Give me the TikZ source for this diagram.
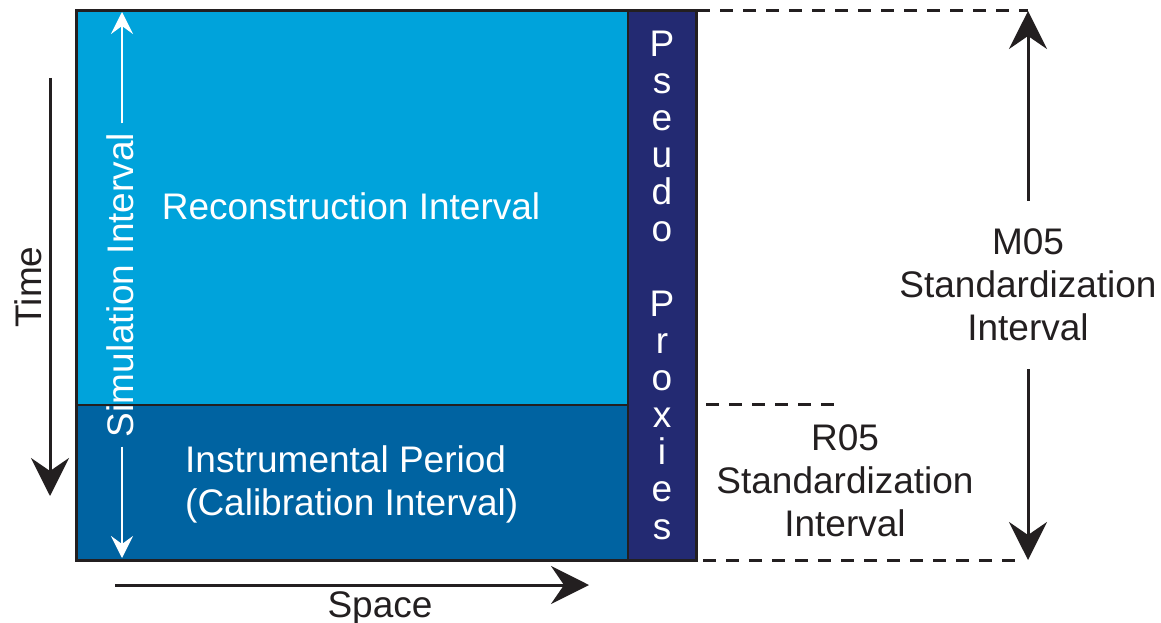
\documentclass[tikz,border=0pt]{standalone}
\usepackage{fontspec}
\setmainfont{Liberation Sans}
\usetikzlibrary{arrows.meta}
\definecolor{lightb}{HTML}{00A3DB}
\definecolor{darkb}{HTML}{0063A1}
\definecolor{navyb}{HTML}{232A72}
\definecolor{ink}{HTML}{231F20}
\begin{document}
\begin{tikzpicture}[x=1pt,y=-1pt,
  lbl/.style={font=\fontsize{37}{43}\selectfont, inner sep=0pt},
  frame/.style={draw=ink, line width=3pt},
  inner/.style={draw=ink, line width=2.2pt},
  guide/.style={draw=ink, line width=3pt, dash pattern=on 13pt off 10pt},
  bigarrow/.style={draw=ink, line width=3pt, -{Stealth[length=38pt,width=38pt,inset=13pt]}},
  whitearrow/.style={draw=white, line width=2.2pt, -{Stealth[length=22pt,width=22pt,inset=8pt]}},
]
\useasboundingbox (0,0) rectangle (1161,623);
% panels
\fill[lightb] (76,11) rectangle (628,405);
\fill[darkb] (76,405) rectangle (628,560);
\fill[navyb] (628,11) rectangle (696,560);
\draw[inner] (76,405) -- (628,405);
\draw[inner] (628,11) -- (628,560);
\draw[frame] (76,11) rectangle (696,560);
% texts inside
\node[lbl, text=white] (recon) at (351,206.5) {Reconstruction Interval};
\node[lbl, text=white, align=left, anchor=west] (instr) at (185,484.5) {Instrumental Period\\(Calibration Interval)};
\node[lbl, text=white, align=center, font=\fontsize{37}{37.15}\selectfont] (pp) at (662,285) {P\\s\\e\\u\\d\\o\\[37.15pt]P\\r\\o\\x\\i\\e\\s};
\node[lbl, text=white, rotate=90, outer sep=9.5pt] (sim) at (120,285) {Simulation Interval};
\coordinate (simtop) at (122,12);
\coordinate (simbot) at (122,558);
\draw[whitearrow] (sim.east -| simtop) -- (simtop);
\draw[whitearrow] (sim.west -| simbot) -- (simbot);
% time and space
\node[lbl, text=ink, rotate=90] (time) at (28,287) {Time};
\coordinate (t1) at (50,78);
\coordinate (t2) at (50,496);
\draw[bigarrow] (t1) -- (t2);
\node[lbl, text=ink, anchor=base] (space) at (380,617) {Space};
\coordinate (s1) at (115,585);
\coordinate (s2) at (589,585);
\draw[bigarrow] (s1) -- (s2);
% right side
\node[lbl, text=ink, align=center, outer sep=28pt] (m05) at (1028,285) {M05\\Standardization\\Interval};
\coordinate (mtop) at (1028,11);
\coordinate (mbot) at (1028,560);
\draw[bigarrow] (m05.north) -- (mtop);
\draw[bigarrow] (m05.south) -- (mbot);
\node[lbl, text=ink, align=center] (r05) at (845,481) {R05\\Standardization\\Interval};
\coordinate (g1) at (697,11);
\coordinate (g2) at (706,404);
\coordinate (g3) at (840,404);
\coordinate (g4) at (703,560);
\coordinate (g5) at (1020,560);
\draw[guide] (g1) -- (mtop);
\draw[guide] (g2) -- (g3);
\draw[guide] (g4) -- (g5);
\end{tikzpicture}
\end{document}
